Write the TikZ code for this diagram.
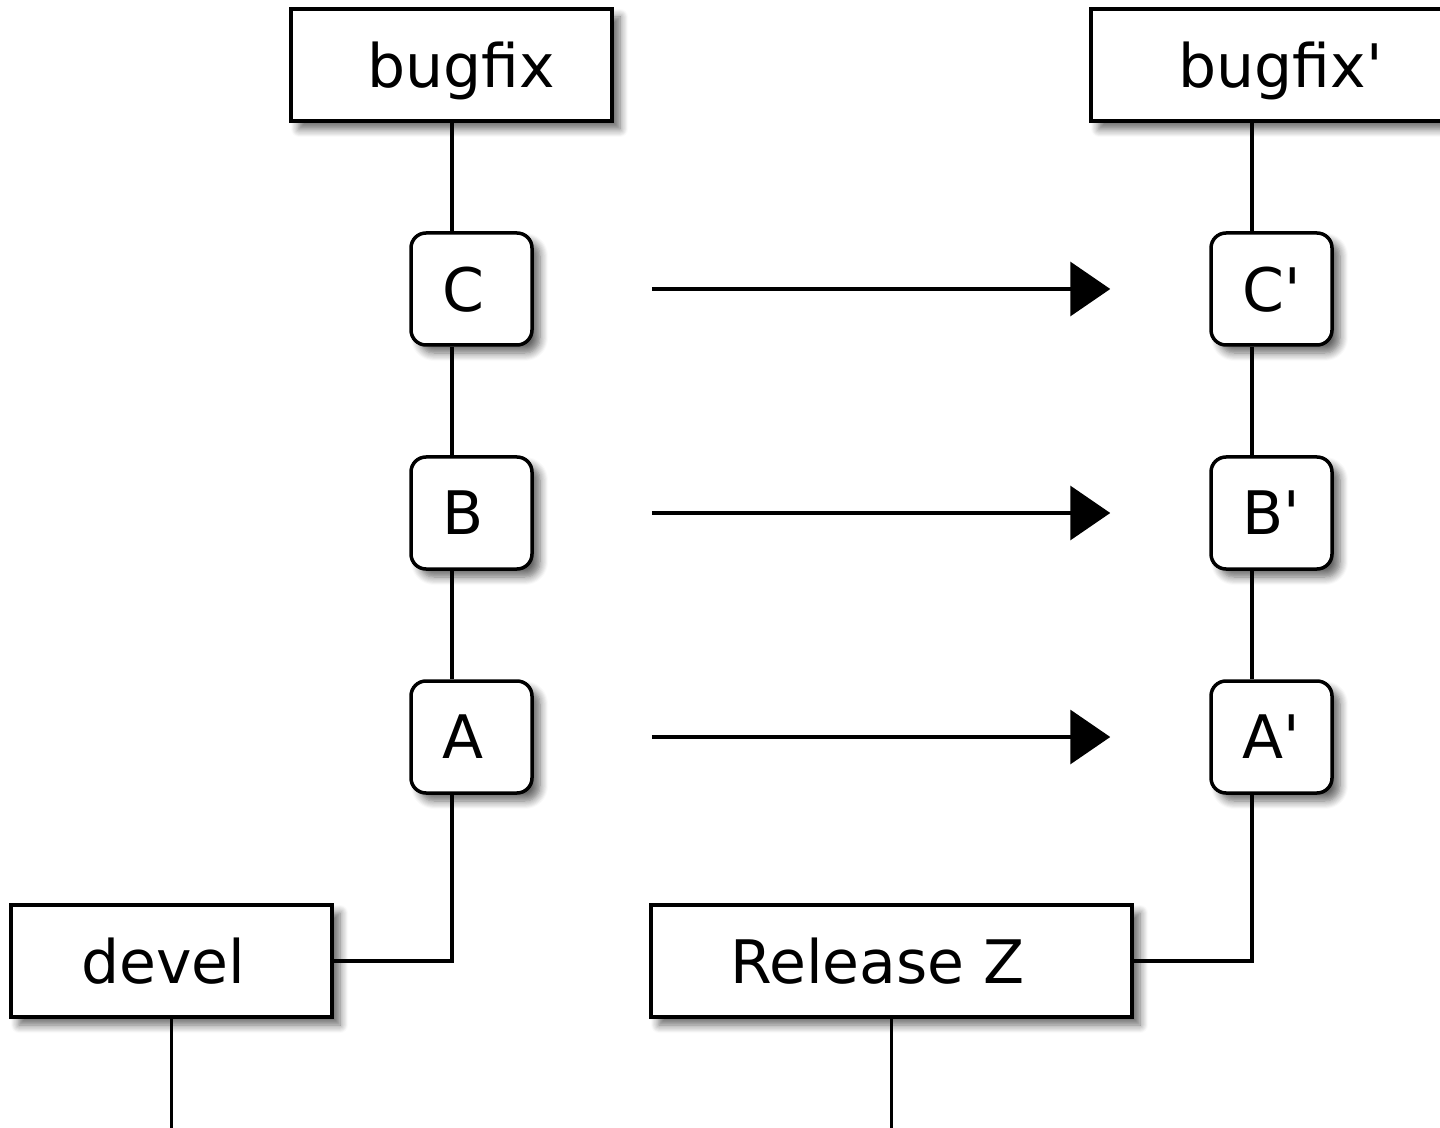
\documentclass[tikz,border=0pt]{standalone}
\usepackage{fontspec}
\setmainfont{DejaVu Sans}
\usetikzlibrary{arrows.meta,shadows.blur}

\tikzset{
  branch/.style={draw, line width=1.75pt, fill=white, inner sep=0pt, text depth=0pt,
    minimum width=160.5pt, minimum height=56pt,
    blur shadow={shadow xshift=4pt, shadow yshift=-4pt, shadow blur radius=4pt,
      shadow blur steps=8, shadow opacity=60}},
  commit/.style={branch, minimum width=60.5pt, rounded corners=7.5pt},
  link/.style={line width=1.75pt},
  move/.style={line width=1.75pt, -{Triangle[length=20pt,width=27pt]}}
}

\begin{document}
\begin{tikzpicture}[x=0.5pt, y=-0.5pt, font=\fontsize{30}{36}\selectfont]
    \useasboundingbox (0,0) rectangle (1440,1128);
    \coordinate (lx) at (452,0);
    \coordinate (rx) at (1252,0);
    \coordinate (develend) at (171.5,1132);
    \coordinate (relzend) at (891.5,1132);

    \node[branch] (bugfix) at (451.5,65) {\ bugfix};
    \node[branch, minimum width=180pt] (bugfixp) at (1271,65) {\ bugfix\textquotesingle};
    \node[branch] (devel) at (171.5,961) {devel\kern8pt};
    \node[branch, minimum width=240.5pt] (relz) at (891.5,961) {Release Z\kern14pt};

    \foreach \n/\t/\y in {c/C/289, b/B/513, a/A/737} {
      \node[commit] (\n) at (471.5,\y) {\t\phantom{\textquotesingle}};
      \node[commit] (new\n) at (1271.5,\y) {\t\textquotesingle};
      \draw[move, shorten <=59pt, shorten >=49.5pt] (\n) -- (new\n);
    }

    \foreach \s/\t in {bugfix/c, c/b, b/a}
      \draw[link] (\s.south -| lx) -- (\t.north -| lx);
    \foreach \s/\t in {bugfixp/newc, newc/newb, newb/newa}
      \draw[link] (\s.south -| rx) -- (\t.north -| rx);
    \draw[link] (a.south -| lx) |- (devel.east);
    \draw[link] (newa.south -| rx) |- (relz.east);
    \draw[link] (devel.south) -- (develend);
    \draw[link] (relz.south) -- (relzend);
\end{tikzpicture}
\end{document}
